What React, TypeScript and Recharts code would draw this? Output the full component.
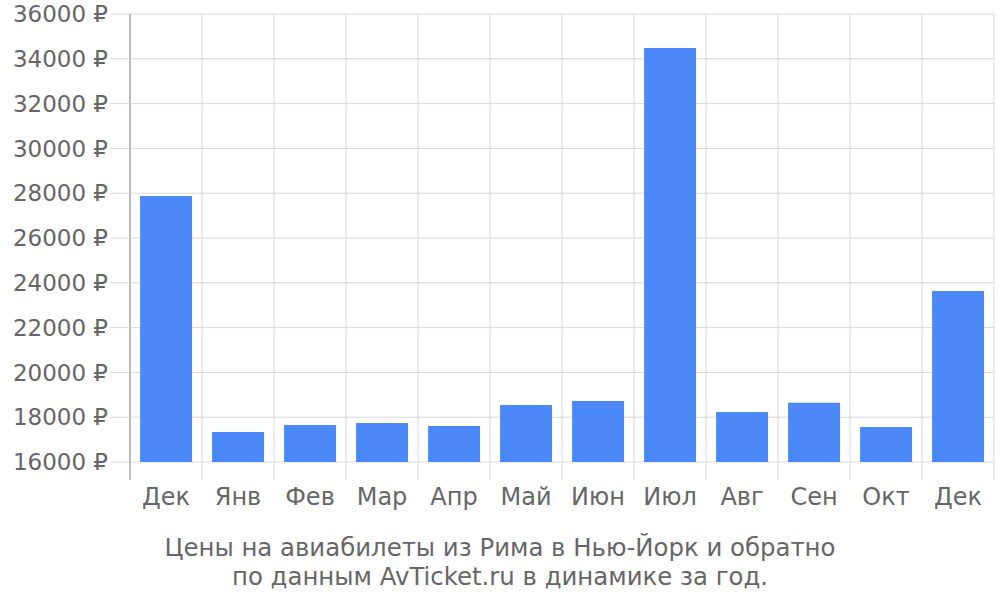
import React from "react";
import { BarChart, Bar, XAxis, YAxis, CartesianGrid } from "recharts";

const months = ["Дек", "Янв", "Фев", "Мар", "Апр", "Май", "Июн", "Июл", "Авг", "Сен", "Окт", "Дек"];
const prices = [27880, 17340, 17650, 17740, 17610, 18550, 18720, 34480, 18230, 18640, 17560, 23630];
const yTicks = [16000, 18000, 20000, 22000, 24000, 26000, 28000, 30000, 32000, 34000, 36000];
const caption = [
  "Цены на авиабилеты из Рима в Нью-Йорк и обратно",
  "по данным AvTicket.ru в динамике за год.",
];

const data = months.map((m, i) => ({ key: `${m}-${i}`, label: m, price: prices[i] }));

const W = 1000;
const H = 600;
const MARGIN = { top: 14, right: 6, left: 0, bottom: 80 };
const Y_W = 130;
const PLOT_W = W - MARGIN.left - MARGIN.right - Y_W;
const HALF_BAND = PLOT_W / months.length / 2;
const FONT = "'DejaVu Sans', sans-serif";
const TEXT = "#666";
const GRID = "#d9d9d9";

function MonthTick(props: any) {
  const { x, y, index } = props;
  const last = index === months.length - 1;
  return (
    <g>
      <line x1={x - HALF_BAND} x2={x - HALF_BAND} y1={y} y2={y + 18} stroke={index === 0 ? "#aaa" : GRID} strokeWidth={index === 0 ? 1.5 : 1} />
      {last && <line x1={x + HALF_BAND} x2={x + HALF_BAND} y1={y} y2={y + 18} stroke={GRID} />}
      <text x={x} y={y + 43} textAnchor="middle" fill={TEXT} fontSize={24} fontFamily={FONT}>
        {months[index]}
      </text>
    </g>
  );
}

export default function App() {
  return (
    <div style={{ position: "absolute", left: 0, top: 0, width: W, height: H, background: "#fff" }}>
      <BarChart width={W} height={H} data={data} margin={MARGIN} barCategoryGap="14%">
        <CartesianGrid
          stroke={GRID}
          verticalCoordinatesGenerator={({ offset }: any) =>
            months.map((_, i) => offset.left + (i * offset.width) / months.length).concat(offset.left + offset.width)
          }
        />
        <XAxis
          dataKey="key"
          axisLine={false}
          tickLine={false}
          tickSize={0}
          tickMargin={0}
          height={58}
          interval={0}
          tick={<MonthTick />}
        />
        <YAxis
          width={Y_W}
          domain={[16000, 36000]}
          ticks={yTicks}
          allowDataOverflow
          interval={0}
          axisLine={{ stroke: "#aaa", strokeWidth: 1.5 }}
          tickLine={{ stroke: GRID }}
          tickSize={20}
          tickMargin={2}
          tickFormatter={(v: number) => `${v} ₽`}
          tick={{ fill: TEXT, fontSize: 23, fontFamily: FONT }}
        />
        <Bar dataKey="price" fill="#4d88f9" isAnimationActive={false} />
      </BarChart>
      <div
        style={{
          position: "absolute",
          left: 0,
          top: 533,
          width: W,
          textAlign: "center",
          fontFamily: FONT,
          fontSize: 24.4,
          lineHeight: "29px",
          color: TEXT,
        }}
      >
        {caption.map((c) => (
          <div key={c}>{c}</div>
        ))}
      </div>
    </div>
  );
}
